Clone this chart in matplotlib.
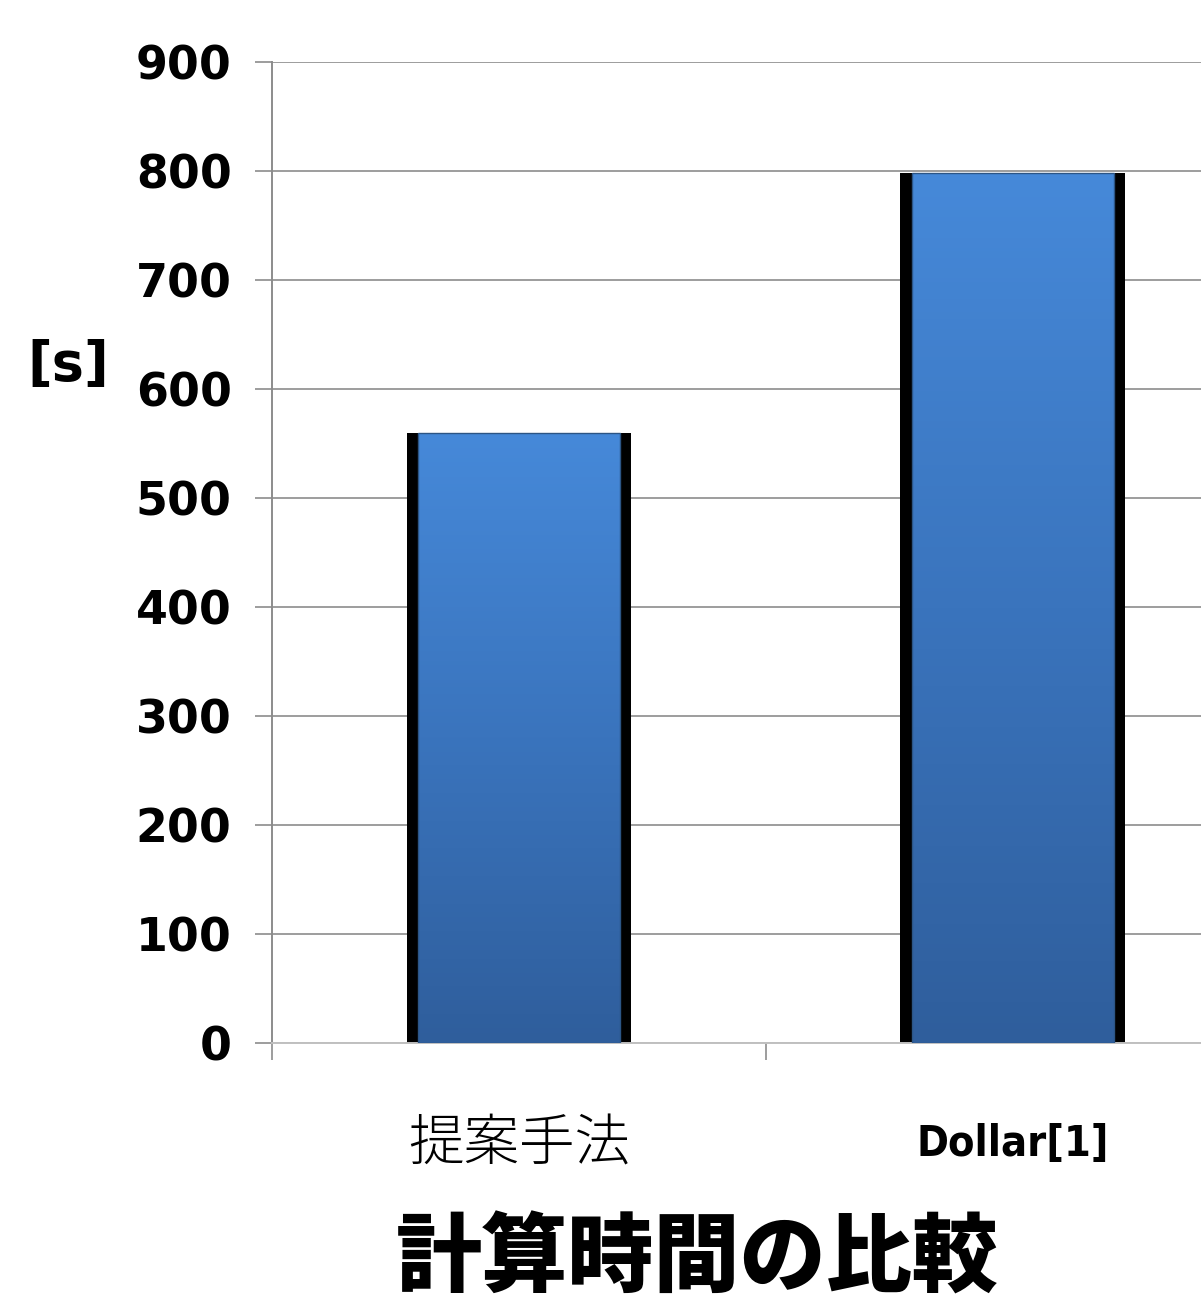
import numpy as np
import matplotlib
matplotlib.use('Agg')
import matplotlib.pyplot as plt
from matplotlib.colors import LinearSegmentedColormap

# data
categories = ['提案手法', 'Dollar[1]']
times = [560, 798]
yticks = [0, 100, 200, 300, 400, 500, 600, 700, 800, 900]

plt.rcParams['font.family'] = ['DejaVu Sans', 'Noto Sans CJK JP']

W, H = 1201, 1314
fig = plt.figure(figsize=(W / 100, H / 100), dpi=100)
ax = fig.add_axes([272 / W, 1 - 1043 / H, 1 - 272 / W, (1043 - 62) / H])

x = np.arange(len(categories))
grad = LinearSegmentedColormap.from_list('bar', ['#2f5e9c', '#3a74bd', '#4689d9'])

# black "shadow" sides, then gradient body clipped to inner rect
ax.bar(x, times, width=0.455, color='black', zorder=2)
inner = ax.bar(x, times, width=0.41, color='none', edgecolor='#2c5585', linewidth=1, zorder=4)
g = np.linspace(0, 1, 256).reshape(-1, 1)
for xi, t, patch in zip(x, times, inner):
    img = ax.imshow(g, cmap=grad, origin='lower', aspect='auto',
                    extent=[xi - 0.205, xi + 0.205, 0, t], zorder=3)
    img.set_clip_path(patch)

ax.set_xlim(-0.5, 1.381)
ax.set_ylim(0, 900)

ax.set_yticks(yticks)
ax.set_yticklabels([str(v) for v in yticks], fontweight='bold')
ax.tick_params(axis='y', length=12, width=1.2, color='#8c8c8c', pad=17, labelsize=33)

ax.set_xticks([-0.5, 0.5])
ax.set_xticklabels(['', ''])
ax.tick_params(axis='x', which='major', length=12, width=1.2, color='#8c8c8c')
ax.set_xticks(x, minor=True)
ax.set_xticklabels(categories, minor=True)
ax.tick_params(axis='x', which='minor', length=0, pad=52)
lbls = ax.get_xticklabels(minor=True)
lbls[0].set_fontfamily(['Noto Sans CJK JP'])
lbls[0].set_fontweight('light')
lbls[0].set_fontsize(40)
lbls[1].set_fontweight('bold')
lbls[1].set_fontstretch('condensed')
lbls[1].set_fontsize(31)
lbls[1].set_y(-0.008)

for s in ['top', 'right']:
    ax.spines[s].set_visible(False)
ax.spines['left'].set_color('#8c8c8c')
ax.spines['left'].set_linewidth(1.4)
ax.spines['bottom'].set_color('#c0c0c0')
ax.spines['bottom'].set_linewidth(1.4)

ax.yaxis.grid(True, color='#8c8c8c', linewidth=1.2)
ax.set_axisbelow(True)

fig.text(68 / W, 1 - 365 / H, '[s]', fontsize=39, fontweight='bold',
         ha='center', va='center')
fig.text(697 / W, 1 - 1260 / H, '計算時間の比較', fontsize=62, fontweight='black',
         family=['Noto Sans CJK JP'], ha='center', va='center')

fig.savefig('out.png', dpi=100)
